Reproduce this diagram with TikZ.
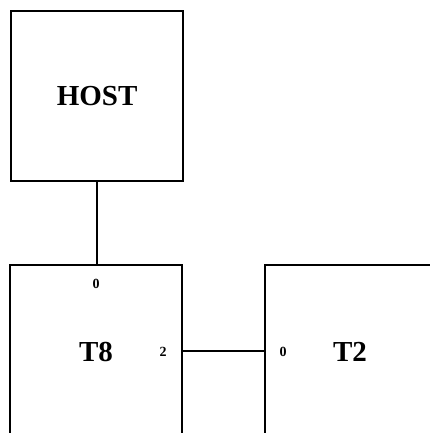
\documentclass[tikz,border=0pt]{standalone}
\usepackage{fontspec}
\setmainfont{Liberation Serif}
\begin{document}
\begin{tikzpicture}[x=1pt,y=-1pt,
  edge/.style={line width=2.2pt},
  box/.style={line width=2.2pt},
  title/.style={font=\bfseries\fontsize{29}{29}\selectfont, inner sep=0pt},
  port/.style={font=\bfseries\fontsize{14}{14}\selectfont, inner sep=0pt}]
\useasboundingbox (0,0) rectangle (430,433);
% HOST box
\node[draw, box, minimum width=172pt, minimum height=170pt, inner sep=0pt, anchor=north west] (host) at (10,10) {};
\node[title] (hostlabel) at (host.center) {HOST};
% T8 box (open at bottom)
\draw[box] (10,440) -- (10,265) -- (182,265) -- (182,440);
\coordinate (t8top) at (host.south |- 0,265);
\coordinate (t8right) at (182,351);
\node[title] (t8) at (96,352) {T8};
\node[port] (t8p0) at (96,284) {0};
\node[port] (t8p2) at (163,352) {2};
% T2 box (open at right and bottom)
\draw[box] (440,265) -- (265,265) -- (265,440);
\coordinate (t2left) at (265,351);
\node[title] (t2) at (350,352) {T2};
\node[port] (t2p0) at (283,352) {0};
% connectors
\draw[edge] (host.south) -- (t8top);
\draw[edge] (t8right) -- (t2left);
\end{tikzpicture}
\end{document}
